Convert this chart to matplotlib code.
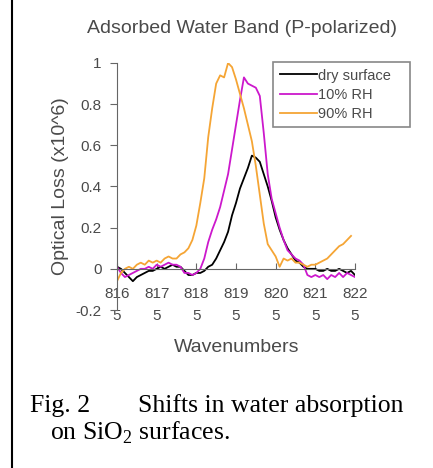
import matplotlib
matplotlib.use('Agg')
import matplotlib.pyplot as plt
from matplotlib.lines import Line2D
import numpy as np

plt.rcParams['font.family'] = ['Liberation Sans', 'DejaVu Sans']
plt.rcParams['mathtext.fontset'] = 'custom'
plt.rcParams['mathtext.rm'] = 'Liberation Serif'

# wavenumber grid (cm^-1) and the three absorption traces
wn = np.arange(8165, 8226)
wn_wet = np.arange(8165, 8225)

dry = [0.01, 0.00, -0.02, -0.04, -0.06, -0.04, -0.03, -0.02, -0.01, -0.01,
       0.00, 0.01, 0.00, 0.01, 0.02, 0.01, 0.01, -0.01, -0.03, -0.03,
       -0.02, -0.02, -0.01, 0.01, 0.02, 0.05, 0.09, 0.13, 0.18, 0.26,
       0.32, 0.39, 0.44, 0.49, 0.55, 0.54, 0.52, 0.46, 0.40, 0.33,
       0.25, 0.19, 0.14, 0.10, 0.07, 0.04, 0.03, 0.01, 0.00, 0.00,
       0.00, -0.01, -0.01, 0.00, -0.01, -0.01, 0.00, -0.01, -0.02, -0.01,
       -0.03]

rh10 = [0.01, -0.02, -0.04, -0.03, -0.02, -0.01, 0.00, 0.00, 0.01, 0.00,
        0.02, 0.01, 0.02, 0.03, 0.02, 0.02, 0.01, -0.02, -0.02, -0.03,
        -0.02, 0.00, 0.05, 0.13, 0.19, 0.24, 0.30, 0.38, 0.46, 0.58,
        0.70, 0.82, 0.93, 0.90, 0.89, 0.88, 0.84, 0.66, 0.46, 0.34,
        0.27, 0.20, 0.14, 0.09, 0.07, 0.05, 0.04, 0.02, -0.03, -0.04,
        -0.03, -0.04, -0.03, -0.05, -0.03, -0.04, -0.02, -0.04, -0.02, -0.03,
        -0.04]

rh90 = [-0.06, -0.02, 0.00, 0.01, 0.00, 0.02, 0.03, 0.02, 0.04, 0.03,
        0.04, 0.03, 0.05, 0.06, 0.05, 0.05, 0.07, 0.08, 0.10, 0.14,
        0.21, 0.32, 0.44, 0.64, 0.78, 0.90, 0.94, 0.93, 1.00, 0.98,
        0.92, 0.85, 0.78, 0.70, 0.62, 0.50, 0.36, 0.22, 0.12, 0.09,
        0.06, 0.01, 0.05, 0.04, 0.05, 0.03, 0.03, 0.02, 0.01, 0.02,
        0.02, 0.03, 0.04, 0.05, 0.07, 0.09, 0.11, 0.12, 0.14, 0.16]

xticks = [8165, 8175, 8185, 8195, 8205, 8215, 8225]
xticklabels = ['816\n5', '817\n5', '818\n5', '819\n5', '820\n5', '821\n5', '822\n5']
yticks = [-0.2, 0, 0.2, 0.4, 0.6, 0.8, 1]
yticklabels = ['-0.2', '0', '0.2', '0.4', '0.6', '0.8', '1']

W, H = 433, 468
txt = '#4a4a4a'
axc = '#666666'

fig = plt.figure(figsize=(W / 100, H / 100), dpi=100)
ax = fig.add_axes([117 / W, 1 - 310 / H, 238 / W, 247 / H])

ax.plot(wn, dry, color='black', lw=1.3, label='dry surface')
ax.plot(wn, rh10, color='#cc18cc', lw=1.3, label='10% RH')
ax.plot(wn_wet, rh90, color='#f5a535', lw=1.3, label='90% RH')

ax.set_xlim(8165, 8225)
ax.set_ylim(-0.2, 1.0)

for s in ['top', 'right']:
    ax.spines[s].set_visible(False)
ax.spines['bottom'].set_position(('data', 0))
ax.spines['bottom'].set_color(axc)
ax.spines['left'].set_color(axc)

ax.set_xticks(xticks)
ax.set_xticklabels(xticklabels, linespacing=1.75)
ax.set_yticks(yticks)
ax.set_yticklabels(yticklabels)
ax.tick_params(axis='x', direction='in', length=4, pad=13, labelsize=11,
               colors=axc, labelcolor=txt)
ax.tick_params(axis='y', direction='out', length=5, pad=6, labelsize=11,
               colors=axc, labelcolor=txt)

ax.set_ylabel('Optical Loss (x10^6)', fontsize=14, color=txt, labelpad=5)

leg = fig.legend(loc='upper left', mode='expand',
                 bbox_to_anchor=(273 / W, 1 - 130 / H, 137 / W, 68 / H),
                 borderaxespad=0, fontsize=10.5, handlelength=2.6,
                 handletextpad=0.05, labelspacing=0.35, borderpad=0.45,
                 fancybox=False, edgecolor='#888888', framealpha=1,
                 labelcolor=txt)
leg.get_frame().set_linewidth(1.2)

fig.text(242 / W, 1 - 33 / H, 'Adsorbed Water Band (P-polarized)',
         ha='center', va='baseline', fontsize=14, color=txt)
fig.text(237 / W, 1 - 352 / H, 'Wavenumbers',
         ha='center', va='baseline', fontsize=14, color=txt)

cap = dict(family='Liberation Serif', fontsize=18.5, color='black', va='baseline')
fig.text(30 / W, 1 - 412 / H, 'Fig. 2', **cap)
fig.text(138 / W, 1 - 412 / H, 'Shifts in water absorption', **cap)
fig.text(50 / W, 1 - 440 / H, r'on SiO$_\mathrm{2}$ surfaces.', **cap)

# page frame edge on the left
fig.add_artist(Line2D([12 / W, 12 / W], [0, 1], transform=fig.transFigure,
                      color='black', lw=1.5))

fig.savefig('out.png', dpi=100)
